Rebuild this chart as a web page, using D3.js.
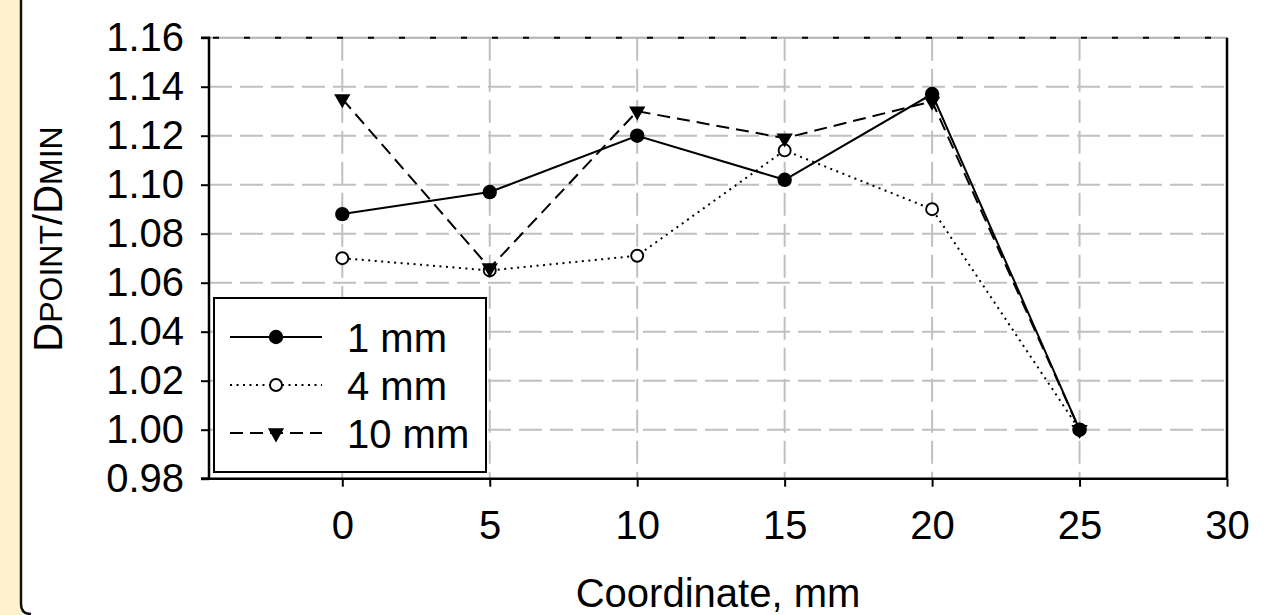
<!DOCTYPE html>
<html lang="en">
<head>
  <meta charset="UTF-8" />
  <title>Dpoint/Dmin vs coordinate</title>
  <script src="https://d3js.org/d3.v7.min.js"></script>
  <style>
    html,body{margin:0;padding:0;background:#fff}
    svg{display:block;font-family:"Liberation Sans",Arial,sans-serif}
  </style>
</head>
<body>
  <div id="chart"></div>

  <script>
    const coords = [0, 5, 10, 15, 20, 25];
    const s1mm = [1.088, 1.097, 1.120, 1.102, 1.137, 1.000];
    const s4mm = [1.070, 1.065, 1.071, 1.114, 1.090, 1.000];
    const s10mm = [1.135, 1.066, 1.130, 1.119, 1.134, 1.000];
    const seriesNames = ["1 mm", "4 mm", "10 mm"];
    const xTicks = [0, 5, 10, 15, 20, 25, 30];
    const yTicks = [0.98, 1.00, 1.02, 1.04, 1.06, 1.08, 1.10, 1.12, 1.14, 1.16];

    const W = 1282, H = 615;
    const svg = d3.select("#chart").append("svg").attr("width", W).attr("height", H);

    // outer frame (beige strip on the left, rounded corner)
    svg.append("rect").attr("x", 0).attr("y", 0).attr("width", 21).attr("height", H).attr("fill", "#fff2cc");
    svg.append("path").attr("d", "M21,0 V604 Q21,614 31,614").attr("fill", "none").attr("stroke", "#111").attr("stroke-width", 2.5);

    const x = d3.scaleLinear().domain([-4.52, 30]).range([209, 1227]);
    const y = d3.scaleLinear().domain([0.98, 1.16]).range([478.7, 37.7]);

    // grid
    const grid = svg.append("g").attr("stroke", "#c0c0c0").attr("stroke-width", 2);
    grid.selectAll("line.h").data(yTicks.filter(d => d > 0.98 && d < 1.16)).enter().append("line")
      .attr("x1", x.range()[0]).attr("x2", x.range()[1])
      .attr("y1", d => y(d)).attr("y2", d => y(d))
      .attr("stroke-dasharray", "23,8");
    grid.selectAll("line.v").data(xTicks.filter(d => d < 30)).enter().append("line")
      .attr("x1", d => x(d)).attr("x2", d => x(d))
      .attr("y1", y.range()[1]).attr("y2", y.range()[0])
      .attr("stroke-dasharray", "23,8");
    // top border
    svg.append("line").attr("x1", 209).attr("x2", 1227).attr("y1", y(1.16)).attr("y2", y(1.16))
      .attr("stroke", "#b0b0b0").attr("stroke-width", 2);
    svg.append("line").attr("x1", 209).attr("x2", 1227).attr("y1", y(1.16)).attr("y2", y(1.16))
      .attr("stroke", "#000").attr("stroke-width", 2).attr("stroke-dasharray", "6,25").attr("stroke-dashoffset", -4);
    svg.append("line").attr("x1", 1227).attr("x2", 1227).attr("y1", y(1.16)).attr("y2", y(0.98))
      .attr("stroke", "#000").attr("stroke-width", 2.5);

    const series = [
      {name: seriesNames[1], vals: s4mm, dash: "2,4.5", marker: "open"},
      {name: seriesNames[2], vals: s10mm, dash: "13,7", marker: "tri"},
      {name: seriesNames[0], vals: s1mm, dash: null, marker: "dot"}
    ];

    const line = d3.line().x(d => x(d[0])).y(d => y(d[1]));
    const tri = d3.symbol().type(d3.symbolTriangle).size(115);

    function drawMarker(g, kind, cx, cy) {
      if (kind === "dot") {
        g.append("circle").attr("cx", cx).attr("cy", cy).attr("r", 7.2).attr("fill", "#000");
      } else if (kind === "open") {
        g.append("circle").attr("cx", cx).attr("cy", cy).attr("r", 6).attr("fill", "#fff")
          .attr("stroke", "#000").attr("stroke-width", 1.9);
      } else {
        g.append("path").attr("d", tri()).attr("transform", `translate(${cx},${cy}) rotate(180)`).attr("fill", "#000");
      }
    }

    series.forEach(s => {
      const pts = coords.map((c, i) => [c, s.vals[i]]);
      svg.append("path").datum(pts).attr("d", line).attr("fill", "none").attr("stroke", "#000")
        .attr("stroke-width", 2).attr("stroke-dasharray", s.dash);
    });
    series.forEach(s => {
      const g = svg.append("g");
      coords.forEach((c, i) => drawMarker(g, s.marker, x(c), y(s.vals[i])));
    });

    // axes
    const yAxis = svg.append("g").attr("transform", "translate(209,0)")
      .call(d3.axisLeft(y).tickValues(yTicks).tickFormat(d3.format(".2f")).tickSize(8).tickPadding(17));
    const xAxis = svg.append("g").attr("transform", `translate(0,${y(0.98)})`)
      .call(d3.axisBottom(x).tickValues(xTicks).tickSize(8).tickPadding(24));
    [yAxis, xAxis].forEach(a => {
      a.select(".domain").attr("stroke", "#000").attr("stroke-width", 2.5);
      a.selectAll(".tick line").attr("stroke", "#000").attr("stroke-width", 2);
      a.selectAll(".tick text").attr("font-size", 40).attr("fill", "#000")
        .attr("font-family", "'Liberation Sans', Arial, sans-serif");
    });
    yAxis.select(".domain").attr("d", "M-8,37.7H0V478.7H-8");
    xAxis.select(".domain").attr("d", "M201,0H1227");

    // axis titles
    svg.append("text").attr("x", 718).attr("y", 606.5).attr("text-anchor", "middle")
      .attr("font-size", 40).text("Coordinate, mm");
    const yt = svg.append("text").attr("transform", "rotate(-90)").attr("x", -239).attr("y", 62)
      .attr("text-anchor", "middle").attr("font-size", 40);
    yt.append("tspan").text("D");
    yt.append("tspan").attr("font-size", 32).text("POINT");
    yt.append("tspan").text("/D");
    yt.append("tspan").attr("font-size", 32).text("MIN");

    // legend
    const leg = svg.append("g");
    leg.append("rect").attr("x", 214).attr("y", 298).attr("width", 272).attr("height", 174)
      .attr("fill", "#fff").attr("stroke", "#000").attr("stroke-width", 2);
    const legOrder = [series[2], series[0], series[1]];
    legOrder.forEach((s, i) => {
      const ly = 337 + i * 48;
      leg.append("line").attr("x1", 230).attr("x2", 322).attr("y1", ly).attr("y2", ly)
        .attr("stroke", "#000").attr("stroke-width", 2).attr("stroke-dasharray", s.dash);
      drawMarker(leg, s.marker, 276, ly);
      leg.append("text").attr("x", 347).attr("y", ly + 15).attr("font-size", 40).text(s.name);
    });
  </script>
</body>
</html>
